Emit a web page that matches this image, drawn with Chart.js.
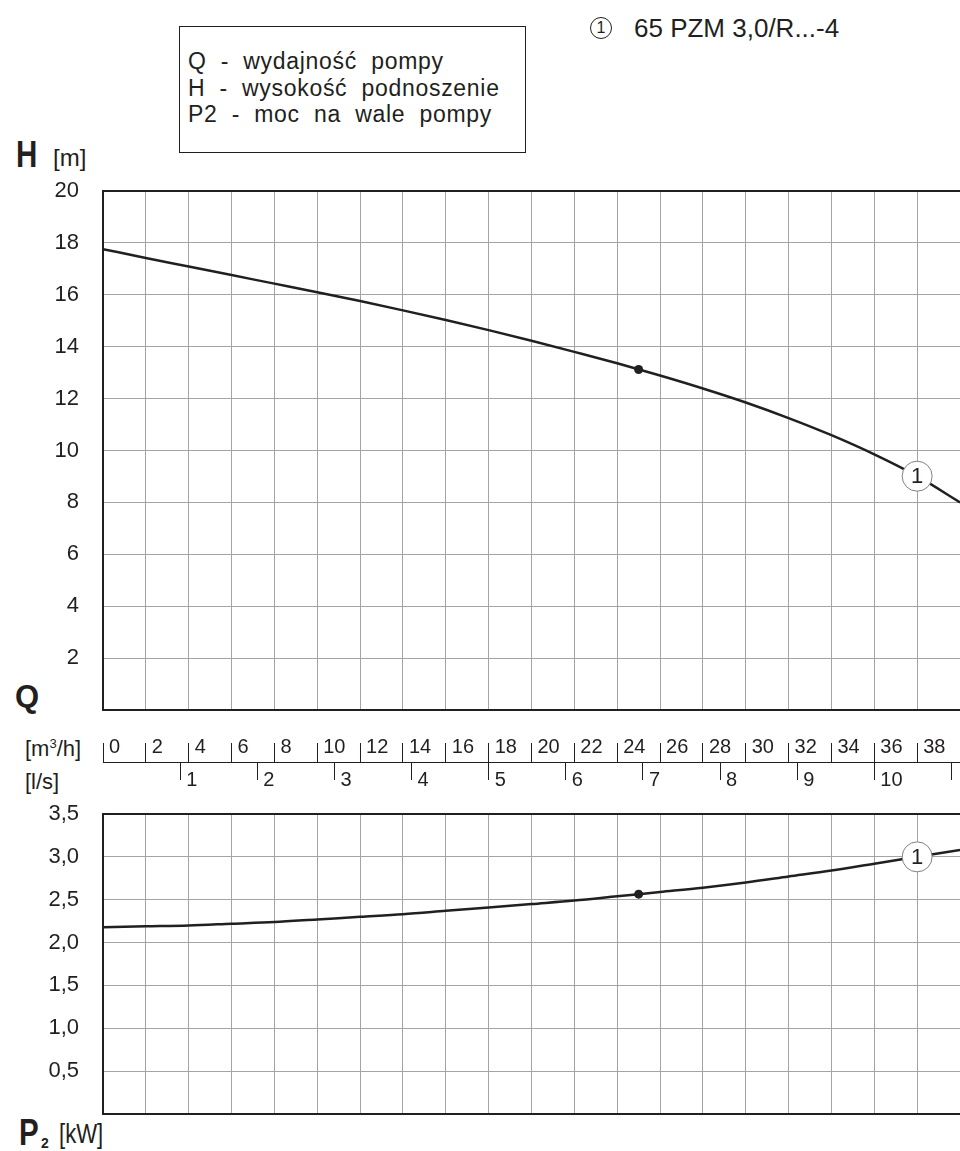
<!DOCTYPE html>
<html>
<head>
<meta charset="utf-8">
<script src="https://cdn.jsdelivr.net/npm/chart.js@4.4.1/dist/chart.umd.min.js"></script>
<style>
  body { margin: 0; background: #fff; }
  #karta { position: relative; width: 960px; height: 1151px; overflow: hidden; color: #231f20; font-family: "Liberation Sans", Arial, sans-serif; }
  #karta canvas { position: absolute; left: 0; }
  .t { position: absolute; white-space: pre; line-height: 1; }
  .waska { display: inline-block; transform: scaleX(0.82); transform-origin: left center; }
  #legenda { position: absolute; left: 179px; top: 26px; width: 345px; height: 125px; border: 1px solid #231f20; }
  #legenda div { position: absolute; left: 8px; font-size: 23px; white-space: pre; line-height: 1; letter-spacing: 0.7px; }
  #kolko { position: absolute; left: 590px; top: 17px; width: 20px; height: 20px; border: 1px solid #231f20; border-radius: 50%; font-size: 16px; line-height: 20px; text-align: center; }
</style>
</head>
<body>
<div id="karta">
  <div id="legenda">
    <div style="top: 23px">Q  -  wydajność  pompy</div>
    <div style="top: 50px">H  -  wysokość  podnoszenie</div>
    <div style="top: 76px">P2  -  moc  na  wale  pompy</div>
  </div>
  <div id="kolko">1</div>
  <div class="t" style="left: 634px; top: 15px; font-size: 26px">65 PZM 3,0/R...-4</div>

  <div class="t" style="left: 16px; top: 137px; font-size: 36px; font-weight: bold"><span class="waska">H</span></div>
  <div class="t" style="left: 53px; top: 146px; font-size: 24px">[m]</div>
  <div class="t" style="left: 15px; top: 681px; font-size: 31px; font-weight: bold">Q</div>
  <div class="t" style="left: 25px; top: 737px; font-size: 22px">[m<sup style="font-size: 13px">3</sup>/h]</div>
  <div class="t" style="left: 25px; top: 771px; font-size: 22px">[l/s]</div>
  <div class="t" style="left: 19px; top: 1115px; font-size: 36px; font-weight: bold"><span class="waska">P</span></div>
  <div class="t" style="left: 41px; top: 1136px; font-size: 14px; font-weight: bold">2</div>
  <div class="t" style="left: 59px; top: 1121px; font-size: 27px"><span class="waska">[kW]</span></div>

  <canvas id="wykres-h" width="960" height="560" style="top: 165px"></canvas>
  <canvas id="skala-q" width="960" height="70" style="top: 730px"></canvas>
  <canvas id="wykres-p" width="960" height="340" style="top: 790px"></canvas>
</div>

<script>
const przeplyw = [0, 2, 4, 6, 8, 10, 12, 14, 16, 18, 20, 22, 24, 26, 28, 30, 32, 34, 36, 38, 40];
const wysokosc = [17.76, 17.42, 17.09, 16.76, 16.43, 16.10, 15.76, 15.40, 15.03, 14.64, 14.23, 13.80, 13.36, 12.89, 12.39, 11.85, 11.25, 10.59, 9.85, 9.01, 8.0];
const moc = [2.18, 2.19, 2.20, 2.22, 2.24, 2.27, 2.30, 2.33, 2.37, 2.41, 2.45, 2.49, 2.54, 2.59, 2.64, 2.70, 2.77, 2.84, 2.92, 3.00, 3.08];

// punkt pracy
const qPunkt = 25;
const hPunkt = 13.12;
const pPunkt = 2.565;

// numer krzywej na wykresie
const numerKrzywej = "1";
const qNumer = 38;
const hNumer = 9.01;
const pNumer = 3.0;

// podzialki
const podzialkaM3h = [0, 2, 4, 6, 8, 10, 12, 14, 16, 18, 20, 22, 24, 26, 28, 30, 32, 34, 36, 38];
const podzialkaLs = [1, 2, 3, 4, 5, 6, 7, 8, 9, 10, 11];
const etykietyLs = ["1", "2", "3", "4", "5", "6", "7", "8", "9", "10", ""];

const ciemny = "#231f20";
const siatka = "#a4a4a4";
const czcionka = '"Liberation Sans", Arial, sans-serif';

const numerNaKrzywej = {
  id: "numerNaKrzywej",
  afterDatasetsDraw(chart) {
    const el = chart.getDatasetMeta(0).data[0];
    if (!el) return;
    const ctx = chart.ctx;
    ctx.save();
    ctx.font = "22px " + czcionka;
    ctx.fillStyle = ciemny;
    ctx.textAlign = "center";
    ctx.textBaseline = "middle";
    ctx.fillText(numerKrzywej, el.x, el.y + 1);
    ctx.restore();
  },
};

function dibujar(id, wartosci, yPunkt, yNumer, yMax, krok, formatuj, gora, dol) {
  const linia = przeplyw.map((q, i) => ({ x: q, y: wartosci[i] }));

  return new Chart(document.getElementById(id), {
    type: "line",
    data: {
      datasets: [
        {
          data: [{ x: qNumer, y: yNumer }],
          showLine: false,
          pointRadius: 15,
          pointBackgroundColor: "#fff",
          pointBorderColor: "#808080",
          pointBorderWidth: 1,
        },
        {
          data: [{ x: qPunkt, y: yPunkt }],
          showLine: false,
          pointRadius: 4.5,
          pointBackgroundColor: ciemny,
          pointBorderWidth: 0,
        },
        {
          data: linia,
          borderColor: ciemny,
          borderWidth: 2.5,
          pointRadius: 0,
          cubicInterpolationMode: "monotone",
        },
      ],
    },
    options: {
      responsive: false,
      animation: false,
      layout: { autoPadding: false, padding: { top: gora, bottom: dol, left: 0, right: 0 } },
      plugins: { legend: { display: false }, tooltip: { enabled: false } },
      scales: {
        x: {
          type: "linear",
          min: 0,
          max: 40,
          ticks: { stepSize: 2, display: false },
          grid: { color: siatka, lineWidth: 1, drawTicks: false },
          border: { display: false },
          afterFit: (s) => {
            s.height = 0;
            s.paddingLeft = 0;
            s.paddingRight = 0;
          },
        },
        y: {
          min: 0,
          max: yMax,
          ticks: {
            stepSize: krok,
            padding: 24,
            color: ciemny,
            font: { family: czcionka, size: 22 },
            callback: (v) => (v === 0 ? "" : formatuj(v)),
          },
          grid: {
            color: (c) => (c.tick.value === 0 || c.tick.value === yMax ? ciemny : siatka),
            lineWidth: (c) => (c.tick.value === 0 || c.tick.value === yMax ? 2 : 1),
            drawTicks: false,
          },
          border: { color: ciemny, width: 2 },
          afterFit: (s) => {
            s.width = 103;
            s.paddingTop = 0;
            s.paddingBottom = 0;
          },
        },
      },
    },
    plugins: [numerNaKrzywej],
  });
}

dibujar("wykres-h", wysokosc, hPunkt, hNumer, 20, 2, (v) => String(v), 26, 15);
dibujar("wykres-p", moc, pPunkt, pNumer, 3.5, 0.5, (v) => v.toFixed(1).replace(".", ","), 24, 16);

// os przeplywu: m3/h na gorze, l/s na dole
new Chart(document.getElementById("skala-q"), {
  type: "line",
  data: { datasets: [] },
  options: {
    responsive: false,
    animation: false,
    layout: { autoPadding: false, padding: { left: 103, right: 0, top: 0, bottom: 0 } },
    plugins: { legend: { display: false }, tooltip: { enabled: false } },
    scales: {
      q: {
        type: "linear",
        position: "top",
        min: 0,
        max: 40,
        afterBuildTicks: (s) => { s.ticks = podzialkaM3h.map((v) => ({ value: v })); },
        ticks: {
          align: "start",
          labelOffset: 6,
          padding: -16,
          maxRotation: 0,
          autoSkip: false,
          color: ciemny,
          font: { family: czcionka, size: 20 },
          callback: (v) => String(v),
        },
        grid: { drawOnChartArea: false, drawTicks: true, tickLength: 19, tickColor: ciemny, tickWidth: 1 },
        border: { color: ciemny, width: 1 },
        afterFit: (s) => {
          s.height = 32;
          s.paddingLeft = 0;
          s.paddingRight = 0;
        },
      },
      ls: {
        type: "linear",
        position: "bottom",
        min: 0,
        max: 40 / 3.6,
        afterBuildTicks: (s) => { s.ticks = podzialkaLs.map((v) => ({ value: v })); },
        ticks: {
          align: "start",
          labelOffset: 6,
          padding: -12,
          maxRotation: 0,
          autoSkip: false,
          color: ciemny,
          font: { family: czcionka, size: 20 },
          callback: (v, i) => etykietyLs[i],
        },
        grid: { drawOnChartArea: false, drawTicks: true, tickLength: 17, tickColor: ciemny, tickWidth: 1 },
        border: { display: false },
        afterFit: (s) => {
          s.height = 37;
          s.paddingLeft = 0;
          s.paddingRight = 0;
        },
      },
      y: { display: false },
    },
  },
});
</script>
</body>
</html>
